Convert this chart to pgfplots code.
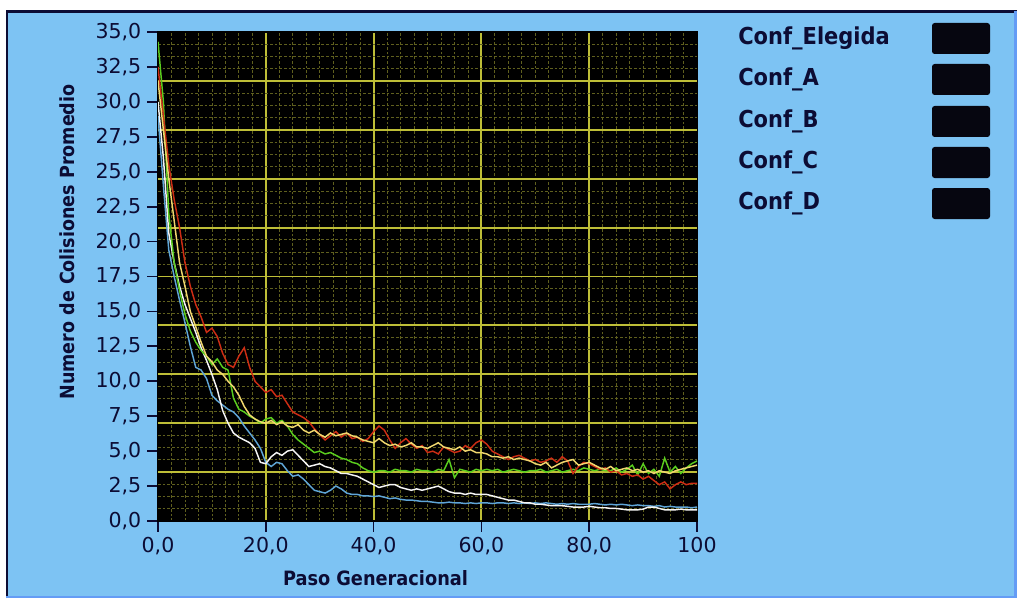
\documentclass[border=0pt]{standalone}
\usepackage{fontspec}
\setmainfont{DejaVu Sans}
\newfontfamily\cb{DejaVu Sans Condensed}
\usepackage{pgfplots}
\usepackage{pgfplotstable}
\pgfplotsset{compat=1.18}
\definecolor{bgblue}{RGB}{125,195,243}
\definecolor{navy}{RGB}{12,12,52}
\definecolor{gridyel}{RGB}{190,190,55}
\definecolor{gridmin}{RGB}{95,95,30}
\definecolor{cred}{RGB}{205,45,20}
\definecolor{cyel}{RGB}{240,215,110}
\definecolor{cgrn}{RGB}{90,205,30}
\definecolor{cwht}{RGB}{245,245,245}
\definecolor{cblu}{RGB}{95,165,215}
\definecolor{legbox}{RGB}{6,6,16}

\pgfplotstableread{
x red yel grn wht blu
0 32.5 31.5 34.3 30.0 29.0
1 29.0 28.0 30.0 26.0 24.0
2 25.5 24.5 22.0 20.6 19.4
3 23.0 21.5 18.5 18.5 17.5
4 21.0 18.5 16.5 16.8 15.8
5 18.5 16.8 14.8 15.5 14.2
6 16.8 15.0 13.6 14.5 12.5
7 15.5 13.9 12.8 13.5 11.0
8 14.6 12.8 12.2 12.4 10.8
9 13.5 11.8 11.8 11.5 10.2
10 13.8 11.4 11.2 10.5 9.0
11 13.2 10.8 11.6 9.4 8.6
12 12.0 10.5 11.0 7.9 8.3
13 11.2 10.0 10.8 7.0 8.0
14 11.0 9.6 8.8 6.3 7.8
15 11.8 9.0 8.0 6.0 7.4
16 12.4 8.2 7.8 5.8 6.8
17 11.0 7.6 7.5 5.6 6.3
18 10.0 7.3 7.3 5.2 5.8
19 9.6 7.1 7.0 4.2 5.2
20 9.2 7.0 7.3 4.1 4.2
21 9.4 7.2 7.4 4.6 3.9
22 8.9 6.9 7.0 4.9 4.2
23 9.0 7.1 7.2 4.7 4.1
24 8.4 6.8 6.8 5.0 3.6
25 7.8 6.7 6.2 5.1 3.2
26 7.6 6.9 5.8 4.7 3.3
27 7.4 6.5 5.5 4.3 3.0
28 7.1 6.3 5.2 3.9 2.6
29 6.6 6.5 4.9 4.0 2.2
30 6.2 6.2 5.0 4.1 2.1
31 5.8 6.0 4.8 3.9 2.0
32 6.1 6.3 4.9 3.8 2.2
33 6.4 6.1 4.7 3.6 2.5
34 6.0 6.2 4.5 3.4 2.3
35 6.3 6.3 4.4 3.4 2.0
36 5.9 6.1 4.2 3.3 1.9
37 6.0 6.0 4.1 3.2 1.9
38 5.7 5.8 3.8 3.0 1.8
39 5.9 5.7 3.6 2.8 1.8
40 6.4 5.6 3.5 2.6 1.75
41 6.8 5.9 3.6 2.4 1.8
42 6.5 5.6 3.6 2.5 1.7
43 5.8 5.4 3.5 2.6 1.6
44 5.2 5.5 3.7 2.6 1.65
45 5.6 5.3 3.6 2.4 1.55
46 5.9 5.4 3.6 2.3 1.5
47 5.5 5.6 3.5 2.2 1.5
48 5.2 5.3 3.7 2.3 1.45
49 5.4 5.3 3.6 2.2 1.4
50 4.9 5.2 3.6 2.3 1.4
51 5.0 5.4 3.5 2.4 1.35
52 4.8 5.6 3.7 2.5 1.3
53 5.3 5.3 3.6 2.3 1.3
54 5.1 5.2 4.4 2.1 1.35
55 4.9 5.1 3.1 2.0 1.3
56 5.0 5.3 3.7 2.0 1.3
57 5.4 5.0 3.6 1.9 1.25
58 5.2 5.1 3.5 2.0 1.3
59 5.6 4.9 3.7 1.9 1.25
60 5.8 4.9 3.6 1.9 1.3
61 5.5 4.8 3.7 1.9 1.3
62 5.0 4.6 3.6 1.8 1.25
63 4.8 4.6 3.7 1.7 1.3
64 4.6 4.5 3.5 1.6 1.3
65 4.4 4.6 3.6 1.5 1.25
66 4.6 4.4 3.7 1.5 1.3
67 4.7 4.5 3.6 1.4 1.25
68 4.5 4.4 3.5 1.3 1.3
69 4.3 4.3 3.6 1.3 1.25
70 4.4 4.1 3.6 1.2 1.3
71 4.2 4.0 3.7 1.2 1.25
72 4.3 4.2 3.5 1.15 1.3
73 4.5 3.8 3.6 1.1 1.25
74 4.2 4.0 3.7 1.1 1.2
75 4.6 4.2 3.5 1.1 1.25
76 4.3 4.3 3.6 1.05 1.2
77 3.4 4.4 3.7 1.0 1.25
78 3.9 4.0 3.6 1.0 1.2
79 4.2 4.1 3.8 1.0 1.2
80 4.1 4.2 3.7 1.05 1.2
81 3.9 4.0 3.6 1.0 1.25
82 3.7 3.8 3.7 0.95 1.2
83 3.8 3.7 3.6 0.95 1.15
84 3.5 3.9 3.6 0.9 1.2
85 3.6 3.6 3.8 0.9 1.15
86 3.3 3.7 3.5 0.85 1.2
87 3.4 3.8 3.7 0.8 1.15
88 3.2 3.6 4.0 0.8 1.1
89 3.3 3.7 3.3 0.8 1.15
90 3.0 3.5 4.1 0.85 1.1
91 3.2 3.6 3.4 1.0 1.1
92 2.9 3.4 3.7 1.0 1.05
93 2.6 3.6 3.2 0.9 1.1
94 2.8 3.5 4.5 0.8 1.0
95 2.3 3.4 3.5 0.8 1.05
96 2.6 3.6 3.9 0.8 1.0
97 2.8 3.7 3.4 0.85 1.0
98 2.6 3.8 3.8 0.8 1.0
99 2.7 3.9 4.1 0.8 0.95
100 2.7 4.0 4.3 0.8 1.0
}\datatable

\begin{document}
\begin{tikzpicture}[x=0.75pt,y=0.75pt]
\fill[white] (0,0) rectangle (1020,601);
\fill[bgblue] (6,3) rectangle (1017,590);
\draw[navy, line width=1.6pt] (7,3) -- (7,589.5) -- (1017,589.5);
\fill[bgblue!80!blue] (1014,3) rectangle (1017,590);
\fill[bgblue!80!blue] (6,3) rectangle (1017,5);
\begin{axis}[
  at={(118.5pt,60pt)}, anchor=south west, scale only axis,
  width=404.25pt, height=366.75pt,
  xmin=0, xmax=100, ymin=0, ymax=35,
  axis background/.style={fill=black},
  axis line style={draw=black, line width=0.8pt},
  xtick pos=bottom, ytick pos=left,
  xtick={0,20,40,60,80,100},
  xticklabels={{0,0},{20,0},{40,0},{60,0},{80,0},{100}},
  ytick={0,2.5,5,7.5,10,12.5,15,17.5,20,22.5,25,27.5,30,32.5,35},
  yticklabels={{0,0},{2,5},{5,0},{7,5},{10,0},{12,5},{15,0},{17,5},{20,0},{22,5},{25,0},{27,5},{30,0},{32,5},{35,0}},
  tick align=outside,
  major tick length=8pt,
  minor tick length=0pt,
  tick style={navy, line width=1.3pt},
  major grid style={draw=gridyel, line width=1.4pt},
  minor grid style={draw=gridmin, dash pattern=on 2pt off 1.5pt, line width=0.6pt},
  xmajorgrids,
  minor x tick num=7, xminorgrids,
  extra y ticks={3.5,7,10.5,14,17.5,21,24.5,28,31.5},
  extra y tick labels={},
  extra y tick style={grid=major, major tick length=0pt},
  ticklabel style={font=\fontsize{15.4}{18}\selectfont, text=navy},
  xticklabel style={yshift=-1pt},
  yticklabel style={xshift=-1pt},
  xlabel={Paso Generacional},
  xlabel style={font=\cb\bfseries\fontsize{14.8}{17}\selectfont, text=navy,
    at={(axis description cs:0.5,0)}, anchor=center, yshift=-42.75pt, xshift=-39pt},
  ylabel={Numero de Colisiones Promedio},
  ylabel style={font=\cb\bfseries\fontsize{14.6}{17}\selectfont, text=navy,
    at={(axis description cs:0,0.5)}, anchor=center, xshift=25.9pt, yshift=68.25pt},
  clip=true,
]
\pgfplotsinvokeforeach{0.875,1.75,2.625,4.375,5.25,6.125,7.875,8.75,9.625,11.375,12.25,13.125,14.875,15.75,16.625,18.375,19.25,20.125,21.875,22.75,23.625,25.375,26.25,27.125,28.875,29.75,30.625,32.375,33.25,34.125}{
  \draw[gridmin, dash pattern=on 2pt off 1.5pt, line width=0.6pt] (axis cs:0,#1) -- (axis cs:100,#1);
}
\addplot[cblu, line width=1.1pt] table[x=x, y=blu] {\datatable};
\addplot[cwht, line width=1.1pt] table[x=x, y=wht] {\datatable};
\addplot[cgrn, line width=1.1pt] table[x=x, y=grn] {\datatable};
\addplot[cred, line width=1.1pt] table[x=x, y=red] {\datatable};
\addplot[cyel, line width=1.1pt] table[x=x, y=yel] {\datatable};
\end{axis}
\foreach \yy/\lab in {38.5/Conf\_Elegida, 79.5/Conf\_A, 121.5/Conf\_B, 162.5/Conf\_C, 203.5/Conf\_D}{
  \node[anchor=west, text=navy, font=\cb\bfseries\fontsize{17.5}{20}\selectfont, inner sep=0pt] at (738,601-\yy) {\lab};
  \fill[legbox, rounded corners=2pt] (932,601-\yy-15.5) rectangle (990,601-\yy+15.5);
}
\end{tikzpicture}
\end{document}
